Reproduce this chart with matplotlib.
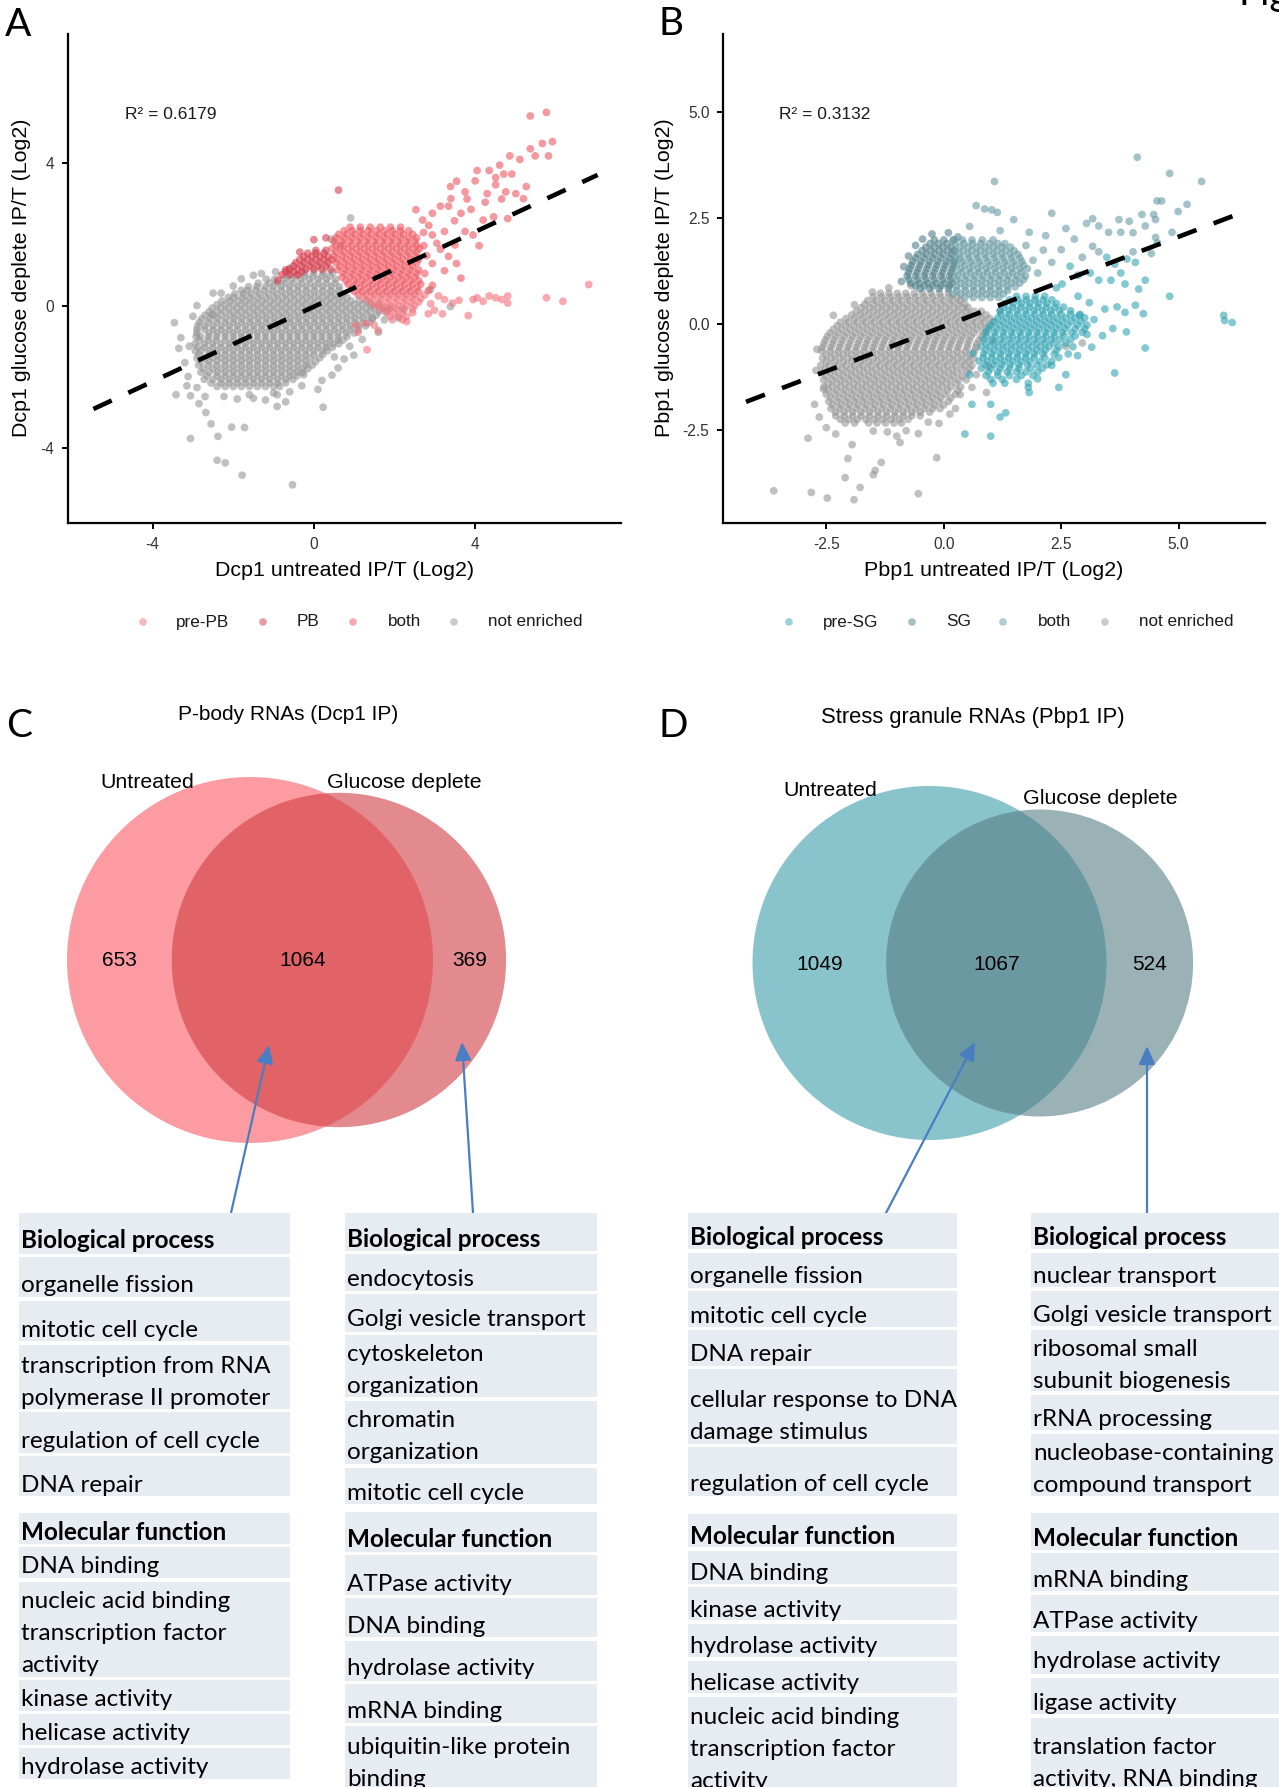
import numpy as np
import matplotlib
matplotlib.use("Agg")
import matplotlib.pyplot as plt
from matplotlib.patches import Circle, Rectangle, FancyArrowPatch

plt.rcParams['font.family'] = ['Liberation Sans', 'DejaVu Sans']

W, H, DPI = 1279, 1787, 100

# ------------------------------------------------------------------
# Panel A: Dcp1 IP/T (log2), untreated (x) vs glucose deplete (y)
# dense cores are given as rows "y: x x x ..."
# ------------------------------------------------------------------
A_not_enriched_rows = """
0.93: -0.22 0.0 0.24 0.46
0.83: -0.65 -0.44 -0.23 -0.02 0.2 0.4
0.74: -1.18 -0.97 -0.75 -0.55 -0.33 -0.12 0.1 0.31 0.54
0.63: -1.38 -1.1 -0.9 -0.7 -0.5 -0.29 -0.08 0.12 0.32 0.52
0.53: -1.62 -1.41 -1.2 -1.0 -0.8 -0.6 -0.39 -0.19 0.02 0.22 0.43 0.63
0.43: -1.8 -1.65 -1.44 -1.23 -1.02 -0.81 -0.6 -0.4 -0.19 0.01 0.22 0.42 0.62
0.33: -1.96 -1.75 -1.55 -1.34 -1.12 -0.91 -0.7 -0.5 -0.29 -0.09 0.12 0.33 0.52 0.72
0.23: -2.12 -1.98 -1.78 -1.59 -1.39 -1.19 -0.98 -0.78 -0.58 -0.38 -0.18 0.02 0.22 0.42 0.62 0.82
0.13: -2.28 -2.08 -1.88 -1.69 -1.49 -1.29 -1.08 -0.88 -0.68 -0.48 -0.28 -0.08 0.12 0.32 0.51 0.71 0.92 1.12 1.31
0.03: -2.4 -2.2 -2.0 -1.8 -1.6 -1.4 -1.2 -1.0 -0.8 -0.6 -0.4 -0.2 0.0 0.2 0.4 0.6 0.8 1.0 1.2 1.4 1.6
-0.07: -2.52 -2.31 -2.11 -1.9 -1.71 -1.5 -1.3 -1.1 -0.9 -0.7 -0.5 -0.29 -0.1 0.1 0.31 0.5 0.7 0.9 1.1 1.31 1.5 1.72 1.9
-0.17: -2.6 -2.4 -2.2 -2.0 -1.8 -1.6 -1.4 -1.2 -1.0 -0.8 -0.6 -0.4 -0.2 0.0 0.2 0.4 0.6 0.8 1.0 1.2 1.4 1.62 1.8
-0.27: -2.7 -2.49 -2.3 -2.08 -1.89 -1.69 -1.48 -1.28 -1.08 -0.88 -0.68 -0.48 -0.28 -0.08 0.12 0.32 0.52 0.72 0.92 1.12 1.32 1.55
-0.37: -2.78 -2.58 -2.38 -2.18 -1.98 -1.78 -1.58 -1.38 -1.18 -0.98 -0.78 -0.58 -0.38 -0.18 0.02 0.22 0.42 0.62 0.82 1.02 1.22 1.45
-0.47: -2.84 -2.62 -2.41 -2.2 -2.0 -1.8 -1.59 -1.39 -1.19 -0.99 -0.79 -0.59 -0.39 -0.19 0.01 0.21 0.41 0.61 0.81 1.01 1.21 1.38
-0.57: -2.88 -2.7 -2.5 -2.3 -2.1 -1.9 -1.7 -1.5 -1.3 -1.1 -0.9 -0.7 -0.5 -0.3 -0.1 0.1 0.3 0.5 0.7 0.9 1.1 1.28
-0.67: -2.9 -2.71 -2.5 -2.3 -2.1 -1.9 -1.69 -1.49 -1.29 -1.09 -0.89 -0.69 -0.49 -0.29 -0.09 0.11 0.31 0.51 0.71 0.9 1.1
-0.77: -2.9 -2.6 -2.4 -2.2 -2.0 -1.8 -1.6 -1.4 -1.2 -1.0 -0.8 -0.6 -0.4 -0.2 0.0 0.2 0.4 0.6 0.8 1.0
-0.87: -2.92 -2.81 -2.61 -2.41 -2.2 -2.0 -1.8 -1.6 -1.4 -1.2 -1.0 -0.8 -0.6 -0.4 -0.2 0.0 0.2 0.4 0.6 0.82
-0.97: -2.84 -2.62 -2.42 -2.2 -2.0 -1.8 -1.6 -1.4 -1.2 -1.0 -0.8 -0.6 -0.4 -0.2 0.0 0.2 0.4 0.6 0.72
-1.07: -2.95 -2.71 -2.51 -2.31 -2.1 -1.9 -1.7 -1.5 -1.3 -1.1 -0.9 -0.7 -0.5 -0.3 -0.1 0.1 0.3 0.48 0.62
-1.17: -2.88 -2.7 -2.5 -2.3 -2.1 -1.9 -1.7 -1.5 -1.3 -1.1 -0.9 -0.7 -0.5 -0.3 -0.1 0.1 0.3 0.46
-1.27: -2.94 -2.8 -2.6 -2.4 -2.2 -2.0 -1.8 -1.6 -1.4 -1.2 -1.0 -0.8 -0.6 -0.4 -0.2 0.0 0.2 0.34
-1.37: -2.85 -2.6 -2.4 -2.2 -2.0 -1.8 -1.6 -1.4 -1.2 -1.0 -0.8 -0.6 -0.4 -0.2 0.0 0.22
-1.47: -2.9 -2.7 -2.5 -2.3 -2.1 -1.9 -1.7 -1.5 -1.3 -1.1 -0.9 -0.7 -0.5 -0.3 -0.1 0.14
-1.57: -2.8 -2.6 -2.4 -2.2 -2.0 -1.8 -1.6 -1.4 -1.2 -1.0 -0.8 -0.6 -0.4 -0.2 0.04
-1.67: -2.86 -2.62 -2.41 -2.2 -2.0 -1.8 -1.6 -1.4 -1.2 -1.0 -0.8 -0.6 -0.4 -0.2 -0.04
-1.77: -2.74 -2.5 -2.3 -2.1 -1.9 -1.7 -1.5 -1.3 -1.1 -0.9 -0.7 -0.5 -0.3 -0.15
-1.87: -2.8 -2.6 -2.4 -2.2 -2.0 -1.8 -1.6 -1.4 -1.2 -1.0 -0.8 -0.6 -0.42 -0.28
-1.97: -2.65 -2.4 -2.2 -2.0 -1.8 -1.6 -1.4 -1.2 -1.0 -0.8 -0.6 -0.42
-2.07: -2.72 -2.5 -2.3 -2.1 -1.9 -1.7 -1.5 -1.3 -1.1 -0.9 -0.7 -0.52
-2.17: -2.55 -2.3 -2.1 -1.9 -1.7 -1.5 -1.3 -1.1 -0.9 -0.7
-2.27: -2.4 -2.2 -2.0 -1.8 -1.6 -1.4 -1.2 -1.0 -0.85
"""
A_not_enriched_pts = [
    (-3.46, -0.48), (-3.09, -1.14), (-3.42, -2.5), (-3.06, -2.53), (-3.12, -1.99),
    (-2.68, -3.0), (-2.55, -3.32), (-3.06, -3.73), (-2.38, -3.67), (-2.04, -3.41),
    (-1.72, -3.42), (-2.4, -4.34), (-2.2, -4.41), (-1.78, -4.76), (-0.53, -5.03),
    (-0.91, -2.83), (0.23, -2.85), (-0.91, -2.5), (-2.23, -2.55), (-0.25, -1.94),
    (0.51, -1.44), (0.99, -1.39), (0.89, -1.14), (0.91, 2.46), (0.43, 1.86),
    (0.66, 1.68), (2.89, 0.45), (3.39, -0.03), (-2.53, -0.26), (-3.3, -0.9),
    (-3.0, -0.3), (-2.5, 0.35), (-1.8, 0.75), (-1.3, 0.9), (-0.6, 1.05),
    (0.2, -2.1), (0.6, -1.75), (1.2, -0.95), (1.6, -0.75), (2.1, -0.35),
    (-1.9, -2.62), (-1.5, -2.6), (-1.0, -2.45), (-0.6, -2.42), (-2.7, -2.55),
    (-2.9, -2.3), (-1.2, -2.65), (-0.7, -2.7), (-1.6, -2.5), (-2.85, -2.75),
    (-3.2, -1.6), (-3.35, -1.2), (0.1, -2.35), (-0.3, -2.25), (0.45, -1.95),
    (0.75, -1.5), (1.45, -0.35), (1.75, -0.4), (2.2, -0.1), (-2.0, 0.55),
    (-1.5, 0.85), (-0.95, 0.95), (-2.3, 0.35), (-2.9, 0.0), (-3.15, -2.25),
]

A_PB_rows = """
1.55: 0.05 0.3
1.47: -0.15 0.05 0.25
1.38: -0.25 -0.05 0.15 0.35
1.29: -0.35 -0.15 0.05 0.25 0.45
1.2: -0.45 -0.25 -0.05 0.15 0.35
1.11: -0.5 -0.3 -0.1 0.1 0.3
1.02: -0.6 -0.4 -0.2 0.0 0.2 0.42
0.94: -0.7 -0.5 -0.3
0.86: -0.8 -0.6 -0.4
"""
A_PB_pts = [(0.61, 3.24), (-0.9, 0.7), (-0.7, 1.0), (0.0, 1.85), (-0.35, 1.5), (0.3, 1.9)]

A_both_rows = """
2.2: 0.9 1.15 1.4 1.65 1.9 2.15
2.1: 0.75 0.95 1.15 1.35 1.55 1.75 1.95 2.15 2.35
2.0: 0.62 0.82 1.02 1.22 1.42 1.62 1.82 2.02 2.22 2.45
1.9: 0.55 0.75 0.95 1.15 1.35 1.55 1.75 1.95 2.15 2.35 2.55
1.8: 0.5 0.7 0.9 1.1 1.3 1.5 1.7 1.9 2.1 2.3 2.5
1.7: 0.55 0.75 0.95 1.15 1.35 1.55 1.75 1.95 2.15 2.35 2.55
1.6: 0.45 0.65 0.85 1.05 1.25 1.45 1.65 1.85 2.05 2.25 2.45 2.62
1.5: 0.55 0.75 0.95 1.15 1.35 1.55 1.75 1.95 2.15 2.35 2.55
1.4: 0.5 0.7 0.9 1.1 1.3 1.5 1.7 1.9 2.1 2.3 2.5
1.3: 0.6 0.8 1.0 1.2 1.4 1.6 1.8 2.0 2.2 2.4 2.6
1.2: 0.55 0.75 0.95 1.15 1.35 1.55 1.75 1.95 2.15 2.35 2.55
1.1: 0.65 0.85 1.05 1.25 1.45 1.65 1.85 2.05 2.25 2.45
1.0: 0.6 0.8 1.0 1.2 1.4 1.6 1.8 2.0 2.2 2.4 2.6
0.9: 0.75 0.95 1.15 1.35 1.55 1.75 1.95 2.15 2.35 2.55
0.8: 0.7 0.9 1.1 1.3 1.5 1.7 1.9 2.1 2.3 2.5
0.7: 0.8 1.0 1.2 1.4 1.6 1.8 2.0 2.2 2.4 2.6
0.6: 0.85 1.05 1.25 1.45 1.65 1.85 2.05 2.25 2.45 2.65
0.5: 0.95 1.15 1.35 1.55 1.75 1.95 2.15 2.35 2.55
0.4: 1.0 1.2 1.4 1.6 1.8 2.0 2.2 2.4 2.6
0.3: 1.1 1.3 1.5 1.7 1.9 2.1 2.3 2.5
"""
A_both_pts = [
    (5.37, 5.32), (5.77, 5.42), (5.37, 4.4), (5.67, 4.55), (5.49, 4.2), (5.82, 4.2),
    (5.92, 4.6), (4.86, 4.2), (5.11, 4.1), (4.61, 3.94), (4.05, 3.79), (4.35, 3.79),
    (4.51, 3.59), (4.71, 3.69), (4.91, 3.69), (3.75, 3.19), (3.8, 2.99), (3.54, 3.49),
    (3.39, 3.34), (4.3, 3.14), (4.51, 3.39), (4.76, 3.19), (5.01, 3.14), (5.27, 3.34),
    (5.2, 3.0), (4.66, 2.99), (4.81, 2.44), (4.46, 2.49), (3.65, 2.59), (3.34, 2.79),
    (3.49, 2.38), (3.75, 2.08), (4.1, 1.68), (3.95, 1.98), (3.14, 2.79), (2.94, 2.59),
    (2.53, 2.69), (3.24, 2.08), (2.94, 1.98), (3.14, 1.58), (3.54, 1.18), (3.34, 1.38),
    (3.65, 0.77), (3.24, 0.98), (2.94, 1.18), (2.94, 0.57), (2.84, 0.42), (2.73, 1.68),
    (2.8, 1.4), (2.75, 0.9), (3.05, 1.75), (2.85, 2.25), (3.5, 1.7), (4.2, 2.4),
    (4.0, 3.5), (3.9, 2.7), (2.7, 2.4), (2.72, 2.05), (3.4, 3.0), (4.25, 2.9),
]

A_prePB_rows = """
0.2: 1.25 1.45 1.65 1.85 2.05 2.25 2.45 2.65
0.1: 1.4 1.6 1.8 2.0 2.2 2.4 2.6
0.0: 1.5 1.7 1.9 2.1 2.3 2.5
-0.1: 1.65 1.85 2.05 2.25 2.45
-0.2: 1.8 2.0 2.2 2.45
-0.3: 1.9 2.1 2.3
-0.4: 1.95 2.2
"""
A_prePB_pts = [
    (3.09, 0.27), (3.24, 0.17), (3.44, 0.07), (3.95, 0.17), (4.05, 0.22), (4.2, 0.12),
    (4.35, 0.27), (4.51, 0.22), (4.66, 0.17), (4.81, 0.27), (4.81, 0.07), (5.77, 0.22),
    (6.18, 0.12), (6.82, 0.59), (2.84, -0.23), (2.99, -0.13), (3.19, -0.23), (3.83, -0.28),
    (3.6, 0.15), (2.9, 0.05), (2.75, 0.3), (1.3, -0.5), (1.5, -0.55), (1.32, -1.24),
    (1.6, -0.7), (2.3, -0.45), (1.05, -0.55), (1.1, -0.75),
]

A_fit = (0.525, -0.03)          # slope, intercept of the dashed regression line
A_fit_range = (-5.47, 7.04)
A_r2 = 0.6179
A_ticks = [-4, 0, 4]
A_lim = (-6.1, 7.62)

# ------------------------------------------------------------------
# Panel B: Pbp1 IP/T (log2), untreated (x) vs glucose deplete (y)
# ------------------------------------------------------------------
B_not_enriched_rows = """
0.72: -1.35 -1.17 -0.99 -0.81 -0.63 -0.45 -0.27 -0.09 0.1
0.635: -1.5 -1.32 -1.14 -0.96 -0.78 -0.6 -0.42 -0.24 -0.06 0.12 0.28
0.55: -1.62 -1.44 -1.26 -1.08 -0.9 -0.72 -0.54 -0.36 -0.18 0.0 0.18 0.35
0.465: -1.68 -1.5 -1.32 -1.14 -0.96 -0.78 -0.6 -0.42 -0.24 -0.06 0.12 0.3 0.45
0.38: -1.76 -1.58 -1.4 -1.22 -1.04 -0.86 -0.68 -0.5 -0.32 -0.14 0.04 0.22 0.4 0.52
0.295: -1.86 -1.68 -1.5 -1.32 -1.14 -0.96 -0.78 -0.6 -0.42 -0.24 -0.06 0.12 0.3 0.48 0.65 0.8
0.21: -1.96 -1.78 -1.6 -1.42 -1.24 -1.06 -0.88 -0.7 -0.52 -0.34 -0.16 0.02 0.2 0.38 0.56 0.74 0.9
0.125: -2.08 -1.9 -1.72 -1.54 -1.36 -1.18 -1.0 -0.82 -0.64 -0.46 -0.28 -0.1 0.08 0.26 0.44 0.62 0.8 0.98
0.04: -2.2 -2.02 -1.84 -1.66 -1.48 -1.3 -1.12 -0.94 -0.76 -0.58 -0.4 -0.22 -0.04 0.14 0.32 0.5 0.68 0.86 1.05
-0.045: -2.27 -2.09 -1.91 -1.73 -1.55 -1.37 -1.19 -1.01 -0.83 -0.65 -0.47 -0.29 -0.11 0.07 0.25 0.43 0.61 0.79 0.98
-0.13: -2.35 -2.17 -1.99 -1.81 -1.63 -1.45 -1.27 -1.09 -0.91 -0.73 -0.55 -0.37 -0.19 -0.01 0.17 0.35 0.53 0.71 0.9
-0.215: -2.42 -2.24 -2.06 -1.88 -1.7 -1.52 -1.34 -1.16 -0.98 -0.8 -0.62 -0.44 -0.26 -0.08 0.1 0.28 0.46 0.64 0.85
-0.3: -2.48 -2.3 -2.12 -1.94 -1.76 -1.58 -1.4 -1.22 -1.04 -0.86 -0.68 -0.5 -0.32 -0.14 0.04 0.22 0.4 0.58 0.8
-0.385: -2.52 -2.34 -2.16 -1.98 -1.8 -1.62 -1.44 -1.26 -1.08 -0.9 -0.72 -0.54 -0.36 -0.18 0.0 0.18 0.36 0.54 0.75
-0.47: -2.55 -2.37 -2.19 -2.01 -1.83 -1.65 -1.47 -1.29 -1.11 -0.93 -0.75 -0.57 -0.39 -0.21 -0.03 0.15 0.33 0.51 0.7
-0.555: -2.58 -2.4 -2.22 -2.04 -1.86 -1.68 -1.5 -1.32 -1.14 -0.96 -0.78 -0.6 -0.42 -0.24 -0.06 0.12 0.3 0.5 0.68
-0.64: -2.6 -2.42 -2.24 -2.06 -1.88 -1.7 -1.52 -1.34 -1.16 -0.98 -0.8 -0.62 -0.44 -0.26 -0.08 0.1 0.28 0.46 0.66
-0.725: -2.5 -2.32 -2.14 -1.96 -1.78 -1.6 -1.42 -1.24 -1.06 -0.88 -0.7 -0.52 -0.34 -0.16 0.02 0.2 0.38 0.56
-0.81: -2.58 -2.4 -2.22 -2.04 -1.86 -1.68 -1.5 -1.32 -1.14 -0.96 -0.78 -0.6 -0.42 -0.24 -0.06 0.12 0.3 0.48 0.64
-0.895: -2.5 -2.32 -2.14 -1.96 -1.78 -1.6 -1.42 -1.24 -1.06 -0.88 -0.7 -0.52 -0.34 -0.16 0.02 0.2 0.38 0.54
-0.98: -2.62 -2.44 -2.26 -2.08 -1.9 -1.72 -1.54 -1.36 -1.18 -1.0 -0.82 -0.64 -0.46 -0.28 -0.1 0.08 0.26 0.44 0.6
-1.065: -2.52 -2.34 -2.16 -1.98 -1.8 -1.62 -1.44 -1.26 -1.08 -0.9 -0.72 -0.54 -0.36 -0.18 0.0 0.18 0.38 0.55
-1.15: -2.6 -2.42 -2.24 -2.06 -1.88 -1.7 -1.52 -1.34 -1.16 -0.98 -0.8 -0.62 -0.44 -0.26 -0.08 0.1 0.28 0.5
-1.235: -2.5 -2.32 -2.14 -1.96 -1.78 -1.6 -1.42 -1.24 -1.06 -0.88 -0.7 -0.52 -0.34 -0.16 0.02 0.2 0.4
-1.32: -2.56 -2.38 -2.2 -2.02 -1.84 -1.66 -1.48 -1.3 -1.12 -0.94 -0.76 -0.58 -0.4 -0.22 -0.04 0.14 0.32 0.48
-1.405: -2.46 -2.28 -2.1 -1.92 -1.74 -1.56 -1.38 -1.2 -1.02 -0.84 -0.66 -0.48 -0.3 -0.12 0.06 0.26
-1.49: -2.55 -2.37 -2.19 -2.01 -1.83 -1.65 -1.47 -1.29 -1.11 -0.93 -0.75 -0.57 -0.39 -0.21 -0.03 0.15 0.36
-1.575: -2.45 -2.27 -2.09 -1.91 -1.73 -1.55 -1.37 -1.19 -1.01 -0.83 -0.65 -0.47 -0.29 -0.11 0.08 0.3
-1.66: -2.5 -2.32 -2.14 -1.96 -1.78 -1.6 -1.42 -1.24 -1.06 -0.88 -0.7 -0.52 -0.34 -0.16 0.02 0.25
-1.745: -2.4 -2.22 -2.04 -1.86 -1.68 -1.5 -1.32 -1.14 -0.96 -0.78 -0.6 -0.42 -0.24 -0.06 0.15
-1.83: -2.45 -2.27 -2.09 -1.91 -1.73 -1.55 -1.37 -1.19 -1.01 -0.83 -0.65 -0.47 -0.29 -0.11 0.1
-1.915: -2.36 -2.18 -2.0 -1.82 -1.64 -1.46 -1.28 -1.1 -0.92 -0.74 -0.56 -0.38 -0.2 0.0
-2.0: -2.4 -2.22 -2.04 -1.86 -1.68 -1.5 -1.32 -1.14 -0.96 -0.78 -0.6 -0.42 -0.24 -0.08
-2.085: -2.3 -2.12 -1.94 -1.76 -1.58 -1.4 -1.22 -1.04 -0.86 -0.68 -0.5 -0.3
-2.17: -2.3 -2.12 -1.94 -1.76 -1.58 -1.4 -1.22 -1.04 -0.86 -0.68 -0.5
-2.255: -2.2 -2.02 -1.84 -1.66 -1.48 -1.3 -1.12 -0.94 -0.76
-2.34: -2.1 -1.9 -1.6 -1.42 -1.24 -1.06 -0.9
"""
B_not_enriched_pts = [
    (-3.62, -3.94), (-2.82, -3.98), (-2.48, -4.11), (-1.91, -4.15), (-1.78, -3.86),
    (-2.1, -3.63), (-2.04, -3.18), (-1.5, -3.56), (-1.46, -3.46), (-1.33, -3.27),
    (-0.54, -4.01), (-0.15, -3.16), (-2.89, -2.7), (-1.95, -2.85), (-0.93, -2.8),
    (-2.5, -2.45), (-2.3, -2.6), (-1.5, -2.53), (-1.2, -2.55), (-0.8, -2.52),
    (-0.54, -2.59), (-0.33, -2.32), (0.13, -2.13), (0.35, -1.67), (0.69, -1.2),
    (0.91, -1.62), (-2.56, -1.54), (-2.72, -1.1), (-2.7, -0.6), (-2.35, 0.2),
    (-1.9, 0.45), (-1.52, 0.75), (-1.17, 0.85), (-0.7, 0.9), (2.6, -0.53),
    (2.95, -0.45), (0.95, -1.0), (1.05, -0.4), (-2.75, -1.9), (-0.1, -2.35),
    (0.25, -2.0), (0.6, -1.5), (-2.65, -2.2), (1.2, 0.3), (-1.0, -2.65),
]

B_SG_rows = """
1.98: -0.2 0.0 0.2
1.895: -0.29 -0.11 0.07
1.81: -0.38 -0.2 -0.02 0.16
1.725: -0.46 -0.28 -0.1 0.08 0.22
1.64: -0.55 -0.37 -0.19 -0.01 0.17
1.555: -0.6 -0.42 -0.24 -0.06 0.12
1.47: -0.66 -0.48 -0.3 -0.12 0.06 0.22
1.385: -0.69 -0.51 -0.33 -0.15 0.03 0.2
1.3: -0.72 -0.54 -0.36 -0.18 0.0 0.18
1.215: -0.75 -0.57 -0.39 -0.21 -0.03 0.15
1.13: -0.78 -0.6 -0.42 -0.24 -0.06 0.12
1.045: -0.74 -0.56 -0.38 -0.2 -0.02 0.15
0.96: -0.7 -0.52 -0.34 -0.16 0.02 0.18
0.895: -0.6 -0.42 -0.24 -0.06 0.12
0.83: -0.5 -0.3 -0.1 0.1
"""
B_SG_pts = [(-0.25, 2.12), (0.1, 2.15), (-0.6, 1.85), (-0.85, 1.35), (-0.9, 1.0),
            (-0.75, 1.6), (0.3, 2.05), (-0.45, 2.0)]

B_both_rows = """
1.98: 0.22 0.4 0.6 0.82 1.05
1.895: 0.25 0.43 0.61 0.79 0.97 1.15 1.3
1.81: 0.34 0.52 0.7 0.88 1.06 1.24 1.42
1.725: 0.24 0.42 0.6 0.78 0.96 1.14 1.32 1.5
1.64: 0.33 0.51 0.69 0.87 1.05 1.23 1.41 1.58
1.555: 0.24 0.36 0.54 0.72 0.9 1.08 1.26 1.44 1.62
1.47: 0.24 0.4 0.58 0.76 0.94 1.12 1.3 1.48 1.66
1.385: 0.27 0.45 0.63 0.81 0.99 1.17 1.35 1.53 1.7
1.3: 0.36 0.54 0.72 0.9 1.08 1.26 1.44 1.62 1.78
1.215: 0.22 0.39 0.57 0.75 0.93 1.11 1.29 1.47 1.65
1.13: 0.3 0.48 0.66 0.84 1.02 1.2 1.38 1.56 1.74
1.045: 0.28 0.45 0.63 0.81 0.99 1.17 1.35 1.53 1.7
0.96: 0.36 0.54 0.72 0.9 1.08 1.26 1.44 1.62
0.875: 0.27 0.45 0.63 0.81 0.99 1.17 1.35 1.52
0.79: 0.28 0.46 0.64 0.82 1.0 1.18 1.36
0.705: 0.2 0.37 0.55 0.73 0.91 1.09 1.27
0.62: 0.45 0.63 0.81 0.99 1.17
"""
B_both_pts = [
    (1.08, 3.36), (0.69, 2.79), (0.87, 2.71), (1.02, 2.69), (1.14, 2.63), (2.3, 2.61),
    (1.49, 2.46), (1.82, 2.16), (2.17, 2.08), (4.12, 3.93), (4.81, 3.55), (5.49, 3.36),
    (4.54, 2.9), (4.64, 2.9), (5.18, 2.82), (4.99, 2.65), (4.22, 2.58), (4.47, 2.58),
    (3.95, 2.42), (4.29, 2.31), (4.51, 2.46), (3.73, 2.46), (3.04, 2.37), (3.17, 2.48),
    (3.3, 2.31), (3.51, 2.16), (3.77, 2.16), (4.03, 2.15), (4.51, 2.04), (4.86, 2.16),
    (4.55, 1.91), (4.42, 1.66), (4.03, 1.7), (3.17, 1.83), (3.3, 1.7), (2.78, 2.0),
    (2.95, 1.57), (2.12, 1.74), (1.9, 1.5), (2.3, 1.45), (2.0, 1.2), (1.75, 1.85),
    (2.5, 1.75), (1.2, 2.2), (0.55, 2.3), (2.6, 2.25),
]

B_preSG_rows = """
0.65: 1.55 1.75 1.95 2.15
0.565: 1.4 1.58 1.76 1.94 2.12 2.3
0.48: 1.3 1.48 1.66 1.84 2.02 2.2 2.4
0.395: 1.28 1.46 1.64 1.82 2.0 2.18 2.36 2.55
0.31: 1.2 1.38 1.56 1.74 1.92 2.1 2.28 2.46 2.7
0.225: 1.22 1.4 1.58 1.76 1.94 2.12 2.3 2.5 2.7 2.9
0.14: 1.15 1.33 1.51 1.69 1.87 2.05 2.23 2.41 2.6 2.8 3.0
0.055: 1.08 1.26 1.44 1.62 1.8 1.98 2.16 2.34 2.52 2.72 2.92
-0.03: 1.0 1.2 1.38 1.56 1.74 1.92 2.1 2.28 2.46 2.64 2.85 3.05
-0.115: 0.95 1.13 1.31 1.49 1.67 1.85 2.03 2.21 2.39 2.58 2.8 3.0
-0.2: 0.9 1.08 1.26 1.44 1.62 1.8 1.98 2.16 2.34 2.52 2.72 2.95
-0.285: 0.92 1.1 1.28 1.46 1.64 1.82 2.0 2.18 2.36 2.56 2.8
-0.37: 0.85 1.03 1.21 1.39 1.57 1.75 1.93 2.11 2.29 2.47 2.7
-0.455: 0.9 1.08 1.26 1.44 1.62 1.8 1.98 2.16 2.34 2.6
-0.54: 0.8 0.98 1.16 1.34 1.52 1.7 1.88 2.06 2.24 2.45 2.75
-0.625: 0.9 1.08 1.26 1.44 1.62 1.8 1.98 2.16 2.4
-0.71: 0.85 1.03 1.21 1.39 1.57 1.75 1.93 2.11 2.35 2.65
-0.795: 0.84 1.02 1.2 1.38 1.56 1.74 1.92 2.15 2.45
-0.88: 0.75 0.93 1.11 1.29 1.47 1.65 1.83 2.05 2.3
-0.965: 0.88 1.06 1.24 1.42 1.6 1.78 1.98 2.2
-1.05: 0.8 1.0 1.2 1.4 1.6 1.85 2.1
-1.135: 0.95 1.15 1.35 1.55 1.75 2.0
-1.22: 0.9 1.15 1.4 1.65 1.9
-1.31: 1.0 1.25 1.55
-1.4: 1.05 1.3 1.8
"""
B_preSG_pts = [
    (3.9, 1.53), (4.08, 1.45), (3.64, 1.41), (3.77, 1.2), (3.56, 1.03), (3.3, 1.03),
    (3.47, 1.57), (3.86, 0.94), (4.15, 0.82), (4.29, 1.03), (4.81, 0.65), (4.08, 0.44),
    (4.25, 0.24), (3.69, 0.4), (3.86, 0.27), (3.43, 0.35), (3.6, -0.11), (3.38, -0.28),
    (3.89, -0.19), (4.29, -0.57), (3.64, -1.16), (5.96, 0.2), (5.98, 0.08), (6.14, 0.03),
    (2.69, 1.36), (2.86, 1.15), (2.52, 0.94), (2.86, 0.65), (3.12, 1.2), (3.1, 0.5),
    (2.4, 0.85), (3.05, -0.25), (3.15, -0.55), (2.85, -0.75), (0.6, -1.9), (1.0, -1.9),
    (1.2, -2.2), (1.32, -2.1), (0.45, -2.6), (1.0, -2.65), (1.8, -1.5), (1.82, -1.62),
    (2.45, -1.5), (2.3, -0.98), (0.55, -1.2), (0.62, -0.7), (2.6, -1.2), (2.0, -1.3),
    (2.9, 0.2), (3.2, 0.1),
]

B_fit = (0.423, -0.06)
B_fit_range = (-4.21, 6.2)
B_r2 = 0.3132
B_ticks = [-2.5, 0.0, 2.5, 5.0]
B_lim = (-4.7, 6.84)

# ------------------------------------------------------------------
# Venn diagrams: [untreated only, shared, glucose deplete only]
# ------------------------------------------------------------------
C_counts = [653, 1064, 369]
D_counts = [1049, 1067, 524]

# ------------------------------------------------------------------
# GO term tables
# ------------------------------------------------------------------
C_shared_terms = ["Biological process", "organelle fission", "mitotic cell cycle",
                  "transcription from RNA\npolymerase II promoter", "regulation of cell cycle",
                  "DNA repair", "Molecular function", "DNA binding",
                  "nucleic acid binding\ntranscription factor\nactivity", "kinase activity",
                  "helicase activity", "hydrolase activity"]
C_gd_terms = ["Biological process", "endocytosis", "Golgi vesicle transport",
              "cytoskeleton\norganization", "chromatin\norganization", "mitotic cell cycle",
              "Molecular function", "ATPase activity", "DNA binding", "hydrolase activity",
              "mRNA binding", "ubiquitin-like protein\nbinding"]
D_shared_terms = ["Biological process", "organelle fission", "mitotic cell cycle", "DNA repair",
                  "cellular response to DNA\ndamage stimulus", "regulation of cell cycle",
                  "Molecular function", "DNA binding", "kinase activity", "hydrolase activity",
                  "helicase activity", "nucleic acid binding\ntranscription factor\nactivity"]
D_gd_terms = ["Biological process", "nuclear transport", "Golgi vesicle transport",
              "ribosomal small\nsubunit biogenesis", "rRNA processing",
              "nucleobase-containing\ncompound transport", "Molecular function",
              "mRNA binding", "ATPase activity", "hydrolase activity", "ligase activity",
              "translation factor\nactivity, RNA binding"]
HEADERS = {"Biological process", "Molecular function"}


def rows_to_xy(block):
    xs, ys = [], []
    for line in block.strip().splitlines():
        yv, xv = line.split(":")
        for v in xv.split():
            xs.append(float(v))
            ys.append(float(yv))
    return xs, ys


def combine(rows, pts):
    xs, ys = rows_to_xy(rows)
    xs += [p[0] for p in pts]
    ys += [p[1] for p in pts]
    return np.array(xs), np.array(ys)


A_groups = [("not enriched", combine(A_not_enriched_rows, A_not_enriched_pts)),
            ("PB", combine(A_PB_rows, A_PB_pts)),
            ("both", combine(A_both_rows, A_both_pts)),
            ("pre-PB", combine(A_prePB_rows, A_prePB_pts))]
B_groups = [("not enriched", combine(B_not_enriched_rows, B_not_enriched_pts)),
            ("SG", combine(B_SG_rows, B_SG_pts)),
            ("both", combine(B_both_rows, B_both_pts)),
            ("pre-SG", combine(B_preSG_rows, B_preSG_pts))]

A_colors = {"pre-PB": "#F2707B", "PB": "#D53A4A", "both": "#EE5561", "not enriched": "#969696"}
B_colors = {"pre-SG": "#33A4B3", "SG": "#52808A", "both": "#679AA3", "not enriched": "#969696"}
PT_ALPHA = 0.6
PT_SIZE = 31

fig = plt.figure(figsize=(W / DPI, H / DPI), dpi=DPI)
fig.patch.set_facecolor("white")


def px_axes(x0, y0, x1, y1):
    return fig.add_axes([x0 / W, 1 - y1 / H, (x1 - x0) / W, (y1 - y0) / H])


def scatter_panel(ax, groups, colors, fit, fit_range, r2, r2_xy, ticks, lim, fmt):
    for name, (x, y) in groups:
        ax.scatter(x, y, s=PT_SIZE, c=colors[name], alpha=PT_ALPHA,
                   edgecolors="none", zorder=2)
    xl = np.array(fit_range)
    ax.plot(xl, fit[0] * xl + fit[1], color="black", lw=3.3,
            dashes=(4.4, 4.0), zorder=3)
    ax.text(r2_xy[0], r2_xy[1], "R\u00b2 = %.4f" % r2, fontsize=12.5,
            ha="left", va="center", color="#1a1a1a")
    ax.set_xlim(*lim)
    ax.set_ylim(*lim)
    ax.set_xticks(ticks)
    ax.set_yticks(ticks)
    ax.set_xticklabels([fmt % t for t in ticks])
    ax.set_yticklabels([fmt % t for t in ticks])
    for s in ("top", "right"):
        ax.spines[s].set_visible(False)
    for s in ("left", "bottom"):
        ax.spines[s].set_linewidth(1.6)
    ax.tick_params(length=4.3, width=1.4, color="black", labelsize=11.2,
                   labelcolor="#333333", pad=5.5)
    ax.set_facecolor("none")


axA = px_axes(68, 34, 621, 523)
scatter_panel(axA, A_groups, A_colors, A_fit, A_fit_range, A_r2, (-4.69, 5.37),
              A_ticks, A_lim, "%d")
axB = px_axes(723, 34, 1265, 523)
scatter_panel(axB, B_groups, B_colors, B_fit, B_fit_range, B_r2, (-3.5, 4.95),
              B_ticks, B_lim, "%.1f")

# ---------------- overlay in pixel coordinates ----------------
ov = fig.add_axes([0, 0, 1, 1])
ov.set_xlim(0, W)
ov.set_ylim(H, 0)
ov.set_axis_off()

LETTER = dict(family="Lato", fontsize=28, ha="left", va="baseline", color="black")
ov.text(5, 36, "A", **LETTER)
ov.text(659, 35, "B", **LETTER)
ov.text(6, 737, "C", **LETTER)
ov.text(659, 737, "D", **LETTER)
ov.text(1238, 5, "Fig", **LETTER)

# axis titles
ov.text(344.5, 570, "Dcp1 untreated IP/T (Log2)", fontsize=15.4, ha="center", va="center")
ov.text(994, 570, "Pbp1 untreated IP/T (Log2)", fontsize=15.4, ha="center", va="center")
ov.text(22, 278, "Dcp1 glucose deplete IP/T (Log2)", fontsize=15.4, ha="center",
        va="center", rotation=90)
ov.text(665, 278, "Pbp1 glucose deplete IP/T (Log2)", fontsize=15.4, ha="center",
        va="center", rotation=90)

# legends
A_legend = [("pre-PB", 143, 176), ("PB", 263, 297), ("both", 353, 388), ("not enriched", 454, 488)]
B_legend = [("pre-SG", 789, 823), ("SG", 912, 946), ("both", 1003, 1038), ("not enriched", 1105, 1139)]
for items, colors in ((A_legend, A_colors), (B_legend, B_colors)):
    for name, mx, tx in items:
        ov.scatter([mx], [622], s=30, c=colors[name], alpha=0.5, edgecolors="none")
        ov.text(tx, 622, name, fontsize=12.3, ha="left", va="center", color="#1a1a1a")


# Venn diagrams: circle areas proportional to set sizes, overlap area to shared count
def lens_area(r1, r2, d):
    if d >= r1 + r2:
        return 0.0
    if d <= abs(r1 - r2):
        return np.pi * min(r1, r2) ** 2
    a1 = np.arccos((d * d + r1 * r1 - r2 * r2) / (2 * d * r1))
    a2 = np.arccos((d * d + r2 * r2 - r1 * r1) / (2 * d * r2))
    k = np.sqrt((-d + r1 + r2) * (d + r1 - r2) * (d - r1 + r2) * (d + r1 + r2))
    return r1 * r1 * a1 + r2 * r2 * a2 - 0.5 * k


def venn(counts, cx, cy, r1, colors, labels_xy, count_xy):
    n1 = counts[0] + counts[1]
    n2 = counts[1] + counts[2]
    r2 = r1 * np.sqrt(n2 / n1)
    target = counts[1] / n1 * np.pi * r1 * r1
    lo, hi = abs(r1 - r2), r1 + r2
    for _ in range(60):
        mid = 0.5 * (lo + hi)
        if lens_area(r1, r2, mid) > target:
            lo = mid
        else:
            hi = mid
    d = 0.5 * (lo + hi)
    ov.add_patch(Circle((cx, cy), r1, facecolor=colors[0], alpha=0.6, edgecolor="none"))
    ov.add_patch(Circle((cx + d, cy), r2, facecolor=colors[1], alpha=0.6, edgecolor="none"))
    ov.text(*labels_xy[0], "Untreated", fontsize=15.4, ha="center", va="center")
    ov.text(*labels_xy[1], "Glucose deplete", fontsize=15.4, ha="center", va="center")
    for val, (x, y) in zip(counts, count_xy):
        ov.text(x, y, str(val), fontsize=15, ha="center", va="center")


ov.text(288, 715, "P-body RNAs (Dcp1 IP)", fontsize=15, ha="center", va="center")
ov.text(973, 718, "Stress granule RNAs (Pbp1 IP)", fontsize=15.8, ha="center", va="center")
venn(C_counts, 250, 960, 183, ("#FA5A64", "#D03C41"),
     [(147, 782), (404, 782)], [(119, 961), (303, 961), (470, 961)])
venn(D_counts, 929.5, 963, 177, ("#3A9EAC", "#577D85"),
     [(830, 791), (1100, 799)], [(820, 964), (997, 964), (1150, 964)])

# arrows from the tables to the Venn regions
ARROW = dict(arrowstyle="-|>,head_length=1.0,head_width=0.45", mutation_scale=11,
             color="#4A7EC2", lw=1.6, shrinkA=0, shrinkB=0)
for (x0, y0), (x1, y1) in [((231, 1213), (269, 1045)), ((473, 1213), (462, 1042)),
                           ((886, 1213), (975, 1042)), ((1147, 1213), (1147, 1046))]:
    ov.add_patch(FancyArrowPatch((x0, y0), (x1, y1), **ARROW))

# GO term tables
LINE = 32
tables = [
    (C_shared_terms, 19, 290, 21,
     [(1213, 1254, 1248), (1257, 1297, 1292), (1301, 1341, 1337), (1345, 1409, 1373),
      (1412, 1453, 1448), (1456, 1496, 1492), (1513, 1544, 1540), (1547, 1578, 1573),
      (1582, 1677, 1608), (1680, 1711, 1706), (1714, 1745, 1740), (1748, 1779, 1774)]),
    (C_gd_terms, 345, 597, 347,
     [(1213, 1251, 1247), (1254, 1291, 1286), (1294, 1332, 1326), (1335, 1397, 1361),
      (1401, 1464, 1427), (1468, 1504, 1500), (1512, 1552, 1547), (1555, 1595, 1591),
      (1598, 1637, 1633), (1641, 1681, 1675), (1684, 1723, 1718), (1726, 1790, 1754)]),
    (D_shared_terms, 688, 957, 690,
     [(1213, 1249, 1245), (1253, 1288, 1283), (1291, 1327, 1323), (1330, 1366, 1361),
      (1369, 1444, 1407), (1447, 1496, 1491), (1514, 1547, 1544), (1551, 1584, 1580),
      (1587, 1620, 1617), (1624, 1657, 1653), (1661, 1693, 1690), (1697, 1790, 1724)]),
    (D_gd_terms, 1031, 1285, 1033,
     [(1213, 1249, 1245), (1253, 1287, 1283), (1291, 1326, 1322), (1330, 1391, 1356),
      (1395, 1430, 1426), (1434, 1496, 1460), (1513, 1550, 1546), (1553, 1591, 1587),
      (1595, 1632, 1628), (1636, 1674, 1668), (1678, 1714, 1710), (1718, 1790, 1754)]),
]
for terms, x0, x1, tx, rows in tables:
    for term, (top, bot, base) in zip(terms, rows):
        ov.add_patch(Rectangle((x0, top), x1 - x0, bot - top, facecolor="#E7EBF2",
                               edgecolor="none"))
        weight = "bold" if term in HEADERS else "normal"
        for i, line in enumerate(term.split("\n")):
            ov.text(tx, base + i * LINE, line, family="Lato", fontsize=17.5,
                    fontweight=weight, ha="left", va="baseline", color="black")

fig.savefig("out.png", dpi=DPI, facecolor="white")
